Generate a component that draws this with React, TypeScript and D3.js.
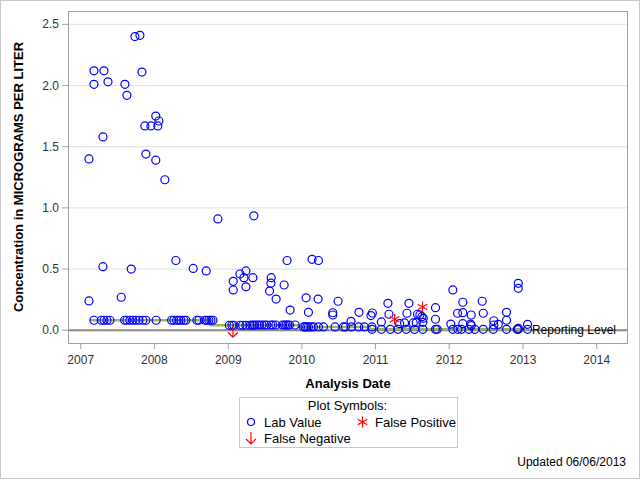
import React from "react";
import * as d3 from "d3";

// ---- data (dates as decimal years) ----
const labDates = [
  2007.112, 2007.112, 2007.18, 2007.18, 2007.316, 2007.37, 2007.302, 2007.302, 2007.55, 2007.6,
  2007.627, 2007.686, 2007.736, 2007.804, 2007.831, 2007.871, 2007.885, 2007.953, 2008.019, 2008.061,
  2008.047, 2008.019, 2008.142, 2008.291, 2008.526, 2008.702, 2008.86, 2009.068, 2009.068, 2009.159,
  2009.213, 2009.24, 2009.24, 2009.335, 2009.348, 2009.583, 2009.579, 2009.561, 2009.65, 2009.759,
  2009.84, 2009.799, 2010.057, 2010.089, 2010.138, 2010.225, 2010.22, 2010.419, 2010.419, 2010.491,
  2010.667, 2010.775, 2010.938, 2010.957, 2011.079, 2011.168, 2011.182, 2011.327, 2011.394, 2011.426,
  2011.453, 2011.512, 2011.553, 2011.57, 2011.602, 2011.629, 2011.648, 2011.642, 2011.814, 2011.814,
  2012.022, 2012.049, 2012.113, 2012.184, 2012.184, 2012.184, 2012.298, 2012.289, 2012.298, 2012.447,
  2012.461, 2012.604, 2012.604, 2012.664, 2012.776, 2012.776, 2012.935, 2012.935, 2012.935, 2013.061,
  // 0.08 level
  2007.18, 2007.279, 2007.316, 2007.356, 2007.397, 2007.596, 2007.627, 2007.668, 2007.709, 2007.749,
  2007.79, 2007.844, 2007.885, 2008.024, 2008.233, 2008.264, 2008.301, 2008.332, 2008.359, 2008.4,
  2008.427, 2008.576, 2008.603, 2008.684, 2008.711, 2008.738, 2008.766, 2008.793,
  // 0.04 level
  2009.014, 2009.05, 2009.077, 2009.159, 2009.195, 2009.24, 2009.294, 2009.339, 2009.321, 2009.358,
  2009.389, 2009.42, 2009.457, 2009.493, 2009.524, 2009.579, 2009.606, 2009.646, 2009.737, 2009.764,
  2009.786, 2009.81, 2009.832, 2009.908,
  // 0.03 level
  2010.022, 2010.043, 2010.066, 2010.089, 2010.125, 2010.157, 2010.225, 2010.293, 2010.45, 2010.564,
  2010.591, 2010.672, 2010.771, 2010.848, 2010.951,
  // 0.01 level
  2010.951, 2011.079, 2011.201, 2011.304, 2011.417, 2011.53, 2011.642, 2011.814, 2011.837, 2012.049,
  2012.117, 2012.167, 2012.266, 2012.347, 2012.461, 2012.596, 2012.776, 2012.921, 2012.935, 2013.061,
];
const labValues = [
  1.40, 0.24, 2.12, 2.01, 2.12, 2.03, 1.58, 0.52, 0.27, 2.01,
  1.92, 0.50, 2.40, 2.41, 2.11, 1.67, 1.44, 1.67, 1.75, 1.71,
  1.67, 1.39, 1.23, 0.57, 0.505, 0.485, 0.91, 0.40, 0.33, 0.46,
  0.43, 0.485, 0.355, 0.43, 0.935, 0.43, 0.385, 0.32, 0.255, 0.37,
  0.165, 0.57, 0.265, 0.147, 0.58, 0.57, 0.255, 0.143, 0.125, 0.237,
  0.073, 0.147, 0.12, 0.141, 0.068, 0.22, 0.131, 0.054, 0.06, 0.139,
  0.22, 0.06, 0.062, 0.131, 0.125, 0.111, 0.098, 0.065, 0.185, 0.09,
  0.051, 0.33, 0.139, 0.229, 0.144, 0.054, 0.125, 0.051, 0.038, 0.237,
  0.139, 0.078, 0.043, 0.049, 0.147, 0.082, 0.384, 0.343, 0.016, 0.049,
  0.082, 0.082, 0.082, 0.082, 0.082, 0.082, 0.082, 0.082, 0.082, 0.082,
  0.082, 0.082, 0.082, 0.082, 0.082, 0.082, 0.082, 0.082, 0.082, 0.082,
  0.082, 0.082, 0.082, 0.082, 0.082, 0.082, 0.082, 0.082,
  0.041, 0.041, 0.041, 0.041, 0.041, 0.041, 0.041, 0.041, 0.043, 0.043,
  0.043, 0.043, 0.043, 0.043, 0.043, 0.043, 0.043, 0.043, 0.043, 0.043,
  0.043, 0.043, 0.043, 0.043,
  0.027, 0.027, 0.027, 0.027, 0.027, 0.027, 0.027, 0.027, 0.027, 0.027,
  0.027, 0.027, 0.027, 0.027, 0.027,
  0.008, 0.008, 0.008, 0.008, 0.008, 0.008, 0.008, 0.008, 0.008, 0.008,
  0.008, 0.008, 0.008, 0.008, 0.008, 0.008, 0.008, 0.008, 0.008, 0.008,
];
const falsePosDates = [2011.259, 2011.638];
const falsePosValues = [0.09, 0.19];
const falseNegDates = [2009.064];
const falseNegValues = [0.041];
const levelDates = [2007.12, 2008.76, 2009.95, 2010.92, 2013.07];
const levelValues = [0.082, 0.041, 0.027, 0.008, 0.008];
const yTicks = [0, 0.5, 1.0, 1.5, 2.0, 2.5];
const xTickYears = [2007, 2008, 2009, 2010, 2011, 2012, 2013, 2014];
const reportingLevel = 0;

const W = 640, H = 480;
const L = 68, R = 628, T = 11, B = 343;
const FONT = "'Liberation Sans', Arial, sans-serif";

function decYear(y: number): Date {
  const yr = Math.floor(y);
  const s = Date.UTC(yr, 0, 1), e = Date.UTC(yr + 1, 0, 1);
  return new Date(s + (y - yr) * (e - s));
}

const x = d3.scaleUtc().domain([new Date(Date.UTC(2006, 9, 30)), new Date(Date.UTC(2014, 5, 5))]).range([L, R]);
const y = d3.scaleLinear().domain([-0.104, 2.609]).range([B, T]);

function starPath(cx: number, cy: number, r: number) {
  let p = "";
  for (const a of [90, 30, -30]) {
    const rad = (a * Math.PI) / 180;
    const dx = r * Math.cos(rad), dy = r * Math.sin(rad);
    p += `M${cx - dx},${cy - dy}L${cx + dx},${cy + dy}`;
  }
  return p;
}
function arrowPath(cx: number, top: number, len: number) {
  const b = top + len;
  return `M${cx},${top}L${cx},${b}M${cx - 5},${b - 5}L${cx},${b}L${cx + 5},${b - 5}`;
}

export default function App() {
  const line = d3
    .line<number>()
    .x((_, i) => x(decYear(levelDates[i])))
    .y((v) => y(v))
    .curve(d3.curveStepAfter);
  const fmt = d3.format(".1f");
  const ry = y(reportingLevel);
  return (
    <svg width={W} height={H} style={{ position: "absolute", left: 0, top: 0, background: "#fff" }} fontFamily={FONT}>
      <rect x={0.5} y={0.5} width={W - 1} height={H - 2} fill="#fff" stroke="#c8c8c8" />
      {yTicks.filter((t) => t > 0).map((t) => (
        <line key={t} x1={L} x2={R} y1={y(t)} y2={y(t)} stroke="#e1e1e1" />
      ))}
      <line x1={L} x2={R} y1={ry} y2={ry} stroke="#888" strokeWidth={2} />
      <path d={line(levelValues) || ""} fill="none" stroke="#9db45e" strokeWidth={2.5} />
      {labDates.map((d, i) => (
        <circle key={i} cx={x(decYear(d))} cy={y(labValues[i])} r={4} fill="none" stroke="#0000ff" strokeWidth={1.2} />
      ))}
      {falsePosDates.map((d, i) => (
        <path key={i} d={starPath(x(decYear(d)), y(falsePosValues[i]), 5.5)} stroke="#ff0000" strokeWidth={1.2} fill="none" />
      ))}
      {falseNegDates.map((d, i) => (
        <path key={i} d={arrowPath(x(decYear(d)), y(falseNegValues[i]), 12)} stroke="#ff0000" strokeWidth={1.2} fill="none" />
      ))}
      <rect x={L + 0.5} y={T + 0.5} width={R - L - 1} height={B - T} fill="none" stroke="#a0a0a0" />
      <text x={R - 12} y={ry + 4} fontSize={12} textAnchor="end" fill="#000">Reporting Level</text>
      {yTicks.map((t) => (
        <g key={t}>
          <line x1={L - 6} x2={L} y1={y(t)} y2={y(t)} stroke="#a0a0a0" />
          <text x={L - 9} y={y(t) + 4} fontSize={12} textAnchor="end" fill="#333">{fmt(t)}</text>
        </g>
      ))}
      {xTickYears.map((yr) => {
        const px = x(new Date(Date.UTC(yr, 0, 1)));
        return (
          <g key={yr}>
            <line x1={px} x2={px} y1={B} y2={B + 6} stroke="#a0a0a0" />
            <text x={px} y={B + 21} fontSize={12} textAnchor="middle" fill="#333">{yr}</text>
          </g>
        );
      })}
      <text x={(L + R) / 2} y={388} fontSize={13} fontWeight="bold" textAnchor="middle">Analysis Date</text>
      <text transform={`translate(23,${(T + B) / 2}) rotate(-90)`} fontSize={13} fontWeight="bold" textAnchor="middle">
        Concentration in MICROGRAMS PER LITER
      </text>
      <rect x={239.5} y={397.5} width={218} height={50} fill="none" stroke="#c8c8c8" />
      <text x={347.5} y={410} fontSize={13} textAnchor="middle">Plot Symbols:</text>
      <circle cx={251} cy={422} r={3.5} fill="none" stroke="#0000ff" strokeWidth={1.2} />
      <text x={264} y={427} fontSize={13}>Lab Value</text>
      <path d={starPath(362.5, 422, 5.5)} stroke="#ff0000" strokeWidth={1.2} fill="none" />
      <text x={375} y={427} fontSize={13}>False Positive</text>
      <path d={arrowPath(251, 432, 12)} stroke="#ff0000" strokeWidth={1.2} fill="none" />
      <text x={264} y={443} fontSize={13}>False Negative</text>
      <text x={626} y={466} fontSize={12} textAnchor="end">Updated 06/06/2013</text>
    </svg>
  );
}
